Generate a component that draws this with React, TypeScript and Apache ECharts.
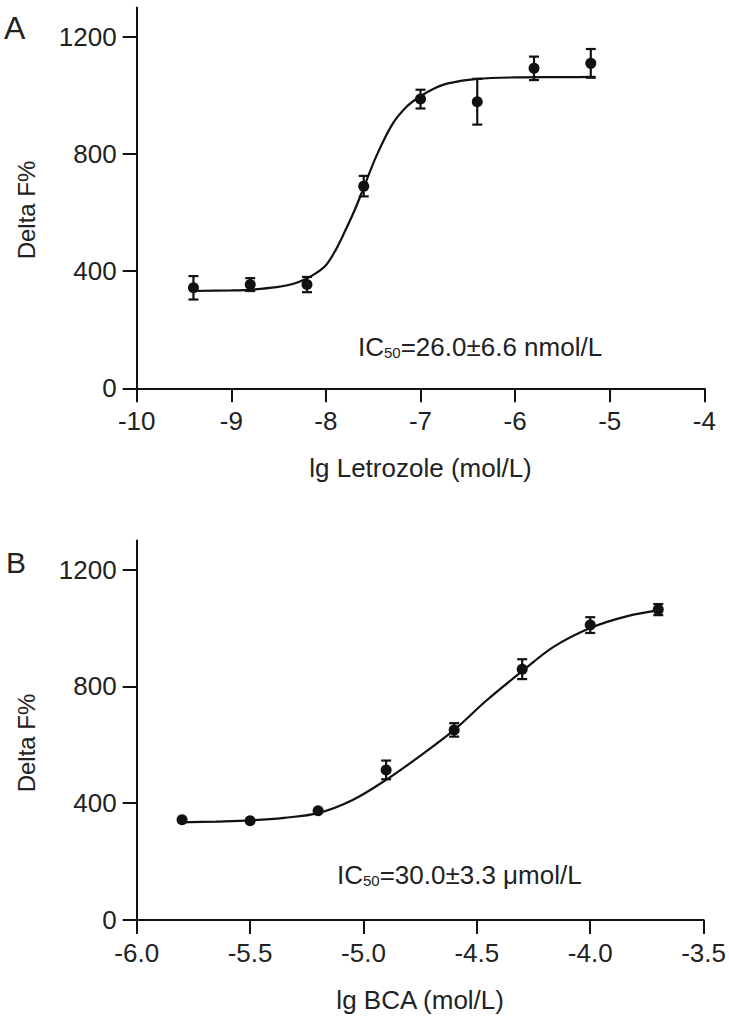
import React, { useEffect, useRef } from "react";
import * as echarts from "echarts";

// Panel A: Letrozole
const aX = [-9.4, -8.8, -8.2, -7.6, -7.0, -6.4, -5.8, -5.2];
const aMean = [343, 354, 354, 690, 987, 978, 1092, 1109];
const aErr = [40, 22, 26, 35, 32, 78, 40, 49];
const aCurveX = [-9.43, -9.0, -8.82, -8.52, -8.35, -8.22, -8.1, -8.0, -7.9, -7.8, -7.7, -7.6, -7.47, -7.3, -7.15, -7.01, -6.85, -6.72, -6.4, -6.0, -5.5, -5.15];
const aCurveY = [332, 334, 336, 345, 356, 372, 394, 420, 470, 535, 605, 685, 790, 900, 960, 995, 1024, 1040, 1056, 1061, 1062, 1063];

// Panel B: BCA
const bX = [-5.8, -5.5, -5.2, -4.9, -4.6, -4.3, -4.0, -3.7];
const bMean = [343, 340, 374, 514, 651, 859, 1010, 1063];
const bErr = [0, 0, 0, 32, 23, 34, 27, 19];
const bCurveX = [-5.81, -5.65, -5.5, -5.35, -5.2, -5.05, -4.9, -4.75, -4.6, -4.46, -4.3, -4.16, -4.0, -3.84, -3.68];
const bCurveY = [334, 337, 341, 350, 366, 410, 480, 562, 651, 750, 852, 936, 1000, 1040, 1063];

const yTicks = [0, 400, 800, 1200];
const aXTicks = [-10, -9, -8, -7, -6, -5, -4];
const bXTicks = [-6.0, -5.5, -5.0, -4.5, -4.0, -3.5];

const FONT = '"Liberation Sans", Arial, sans-serif';
const INK = "#111";
const TXT = "#222";

function errData(xs: number[], ms: number[], es: number[]) {
  return xs
    .map((x, i) => [x, ms[i] - es[i], ms[i] + es[i]])
    .filter((d, i) => es[i] > 0);
}

const renderErr = (params: any, api: any) => {
  const x = api.value(0);
  const lo = api.value(1);
  const hi = api.value(2);
  const p1 = api.coord([x, hi]);
  const p2 = api.coord([x, lo]);
  const w = 5;
  const st = { stroke: INK, lineWidth: 2.2 };
  return {
    type: "group",
    children: [
      { type: "line", shape: { x1: p1[0], y1: p1[1], x2: p2[0], y2: p2[1] }, style: st },
      { type: "line", shape: { x1: p1[0] - w, y1: p1[1], x2: p1[0] + w, y2: p1[1] }, style: st },
      { type: "line", shape: { x1: p2[0] - w, y1: p2[1], x2: p2[0] + w, y2: p2[1] }, style: st },
    ],
  };
};

function xAxisCfg(gridIndex: number, min: number, max: number, interval: number, ticks: number[], name: string, digits: number) {
  return {
    type: "value",
    gridIndex,
    min,
    max,
    interval,
    name,
    nameLocation: "middle",
    nameGap: 67,
    nameTextStyle: { fontSize: 26, fontFamily: FONT, color: TXT },
    axisLine: { show: true, onZero: false, lineStyle: { color: INK, width: 2 } },
    axisTick: { show: true, length: 14, lineStyle: { color: INK, width: 2 }, customValues: ticks },
    axisLabel: {
      fontSize: 26,
      fontFamily: FONT,
      color: TXT,
      margin: 20,
      customValues: ticks,
      formatter: (v: number) => v.toFixed(digits),
    },
    splitLine: { show: false },
  };
}

function yAxisCfg(gridIndex: number) {
  return {
    type: "value",
    gridIndex,
    min: 0,
    max: 1300,
    interval: 400,
    axisLine: { show: true, onZero: false, lineStyle: { color: INK, width: 2 } },
    axisTick: { show: true, length: 14, lineStyle: { color: INK, width: 2 }, customValues: yTicks },
    axisLabel: {
      fontSize: 26,
      fontFamily: FONT,
      color: TXT,
      margin: 20,
      customValues: yTicks,
      formatter: (v: number) => String(v),
    },
    splitLine: { show: false },
  };
}

function icText(x: number, y: number, val: string) {
  return {
    type: "text",
    x,
    y,
    style: {
      text: "{a|IC}{s|50}{a|" + val + "}",
      fill: TXT,
      fontFamily: FONT,
      fontSize: 26,
      verticalAlign: "middle",
      rich: {
        a: { fontSize: 26, fontFamily: FONT, fill: TXT },
        s: { fontSize: 15, fontFamily: FONT, fill: TXT, verticalAlign: "bottom" },
      },
    },
  };
}

function yName(x: number, y: number) {
  return {
    type: "text",
    x,
    y,
    rotation: Math.PI / 2,
    style: {
      text: "Delta F%",
      fill: TXT,
      fontFamily: FONT,
      fontSize: 24,
      align: "center",
      verticalAlign: "middle",
    },
  };
}

function curveSeries(idx: number, xs: number[], ys: number[]) {
  return {
    type: "line",
    xAxisIndex: idx,
    yAxisIndex: idx,
    data: xs.map((x, i) => [x, ys[i]]),
    smooth: 0.35,
    showSymbol: false,
    symbol: "none",
    lineStyle: { color: INK, width: 2.2 },
    z: 2,
  };
}

function pointSeries(idx: number, xs: number[], ms: number[]) {
  return {
    type: "scatter",
    xAxisIndex: idx,
    yAxisIndex: idx,
    data: xs.map((x, i) => [x, ms[i]]),
    symbol: "circle",
    symbolSize: 11,
    itemStyle: { color: INK, opacity: 1 },
    z: 4,
  };
}

export default function App() {
  const ref = useRef<HTMLDivElement>(null);
  useEffect(() => {
    if (!ref.current) return;
    const chart = echarts.init(ref.current, undefined, { renderer: "svg" });
    chart.setOption({
      animation: false,
      backgroundColor: "#fff",
      grid: [
        { left: 136.7, top: 7.4, width: 567.6, height: 380.9 },
        { left: 136.7, top: 540.4, width: 567.3, height: 379.6 },
      ],
      xAxis: [
        xAxisCfg(0, -10, -4, 1, aXTicks, "lg Letrozole (mol/L)", 0),
        xAxisCfg(1, -6, -3.5, 0.5, bXTicks, "lg BCA (mol/L)", 1),
      ],
      yAxis: [yAxisCfg(0), yAxisCfg(1)],
      graphic: [
        { type: "text", x: 4, y: 28, style: { text: "A", fill: TXT, fontFamily: FONT, fontSize: 32, verticalAlign: "middle" } },
        { type: "text", x: 6, y: 562, style: { text: "B", fill: TXT, fontFamily: FONT, fontSize: 30, verticalAlign: "middle" } },
        yName(26, 210),
        yName(26, 743),
        icText(358, 347, "=26.0±6.6 nmol/L"),
        icText(337, 875, "=30.0±3.3 μmol/L"),
      ],
      series: [
        curveSeries(0, aCurveX, aCurveY),
        {
          type: "custom",
          xAxisIndex: 0,
          yAxisIndex: 0,
          renderItem: renderErr,
          data: errData(aX, aMean, aErr),
          z: 3,
        },
        pointSeries(0, aX, aMean),
        curveSeries(1, bCurveX, bCurveY),
        {
          type: "custom",
          xAxisIndex: 1,
          yAxisIndex: 1,
          renderItem: renderErr,
          data: errData(bX, bMean, bErr),
          z: 3,
        },
        pointSeries(1, bX, bMean),
      ],
    });
    return () => chart.dispose();
  }, []);
  return (
    <div
      ref={ref}
      style={{ position: "absolute", left: 0, top: 0, width: 729, height: 1016, background: "#fff" }}
    />
  );
}
